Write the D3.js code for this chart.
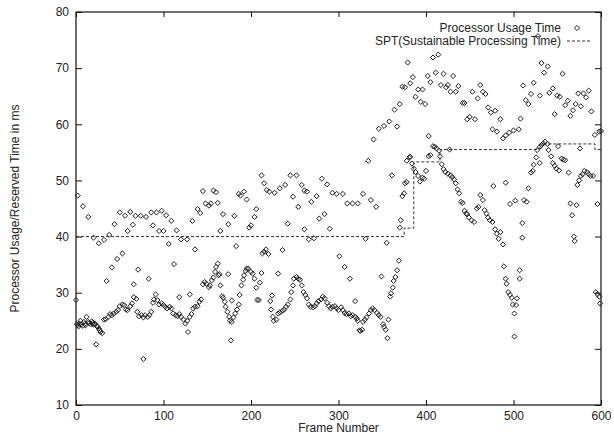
<!DOCTYPE html>
<html>
<head>
<meta charset="utf-8">
<title>Processor Usage Time</title>
<style>
  body { margin: 0; background: #fff; }
  svg text { font-family: "Liberation Sans", Arial, Helvetica, sans-serif; font-size: 12px; fill: #222; }
  .axis path { display: none; }
  .axis line { stroke: #111; stroke-width: 1px; }
  .pt { fill: none; stroke: #111; stroke-width: 0.9px; }
  .spt { fill: none; stroke: #333; stroke-width: 1px; stroke-dasharray: 3,2; }
</style>
<script src="https://cdn.jsdelivr.net/npm/d3@7"></script>
</head>
<body>
<script>
// [frame number, processor usage time in ms]
var usageLow = [
  [0,28.7],[1,24.4],[2,24.2],[3,24.0],[4,24.5],[5,25.0],[6,24.3],[8,24.1],[9,24.8],[10,24.4],[11,24.2],[12,25.7],
  [14,24.8],[15,24.6],[17,24.4],[18,24.9],[19,24.6],[20,24.3],[21,24.4],[22,24.5],[23,20.8],[24,24.0],[25,23.9],
  [26,23.6],[27,23.3],[28,23.0],[30,22.8],[32,25.2],[34,25.3],[37,25.7],[39,26.2],[41,26.0],[43,26.3],[46,26.6],
  [48,26.9],[50,27.6],[53,27.9],[55,27.8],[57,27.0],[59,26.9],[62,27.6],[64,28.1],[66,29.2],[69,28.9],[70,26.6],
  [72,25.8],[75,26.0],[77,25.6],[79,26.0],[82,25.7],[84,26.0],[86,26.6],[88,28.2],[89,28.8],[91,29.7],[93,28.7],
  [95,27.9],[98,28.1],[100,27.8],[102,27.5],[104,27.2],[107,27.5],[109,27.2],[111,26.3],[114,26.0],[116,25.8],
  [118,26.2],[120,25.7],[123,25.2],[125,24.5],[127,25.0],[128,23.0],[130,25.7],[132,26.2],[134,27.2],[136,27.5],
  [139,27.6],[141,28.4],[143,28.8],[145,31.5],[147,31.9],[149,31.6],[152,31.0],[153,31.3],[155,32.2],[157,32.7],
  [159,33.7],[160,34.6],[162,35.2],[163,33.1],[165,31.3],[167,29.4],[168,29.1],[170,28.4],[171,27.5],[173,26.6],
  [175,25.7],[176,25.0],[178,24.8],[180,25.6],[182,26.3],[184,27.0],[186,27.9],[187,29.6],[189,31.3],[191,32.3],
  [192,33.1],[194,33.9],[195,34.3],[197,34.3],[200,33.7],[202,33.4],[204,32.5],[206,30.9],[207,28.7],[209,28.7],
  [210,31.8],[212,33.5],[213,37.0],[215,37.3],[217,37.7],[220,36.9],[222,28.5],[223,27.0],[224,29.5],[225,25.7],
  [226,25.0],[229,25.2],[231,26.3],[233,26.5],[236,26.8],[238,27.0],[240,27.5],[242,27.9],[245,28.8],[246,30.1],
  [248,31.3],[249,32.5],[252,32.8],[254,32.5],[256,32.3],[258,31.3],[260,30.1],[262,29.6],[264,29.0],[266,27.9],
  [268,27.5],[271,27.4],[273,27.6],[275,28.1],[277,28.5],[280,28.8],[282,29.3],[284,29.0],[287,28.2],[289,27.6],
  [291,27.2],[293,27.5],[296,27.6],[298,27.2],[300,26.9],[303,27.4],[305,26.9],[307,26.4],[309,26.2],[312,26.3],
  [314,25.8],[316,26.0],[319,25.7],[321,25.4],[322,25.0],[324,23.3],[325,23.2],[327,23.4],[328,24.8],[330,25.2],
  [332,25.6],[335,26.3],[337,26.9],[339,27.2],[341,26.9],[344,26.4],[346,26.0],[348,25.7],[351,24.4],[352,23.9],
  [354,23.4],[356,21.9],[357,25.2]
];

var usageMid = [
  [35,32.1],[41,34.5],[47,36.0],[53,37.0],[66,31.5],[71,34.1],[77,18.2],[83,32.5],[106,38.7],[112,35.1],
  [118,29.2],[130,29.7],[136,37.7],[164,33.3],[174,33.3],[177,21.5],[178,28.6],[183,38.3],
  [231,33.4],[236,37.6],[242,42.3],[301,36.5],[307,34.6],[313,32.5],[319,28.5],[349,32.9],[355,38.9],
  [359,29.3],[360,29.9],[362,30.9],[363,32.1],[365,32.8],[367,34.0],[369,35.7],[370,41.6],[371,42.9],
  [373,47.2],[375,47.7],[376,49.5],[378,49.7],[361,50.9]
];

var usageHigh = [
  [2,47.3],[8,45.4],[14,43.5],[20,39.8],[26,38.8],[32,39.4],[38,40.3],[44,42.2],[50,44.3],[56,43.7],[59,41.0],
  [62,44.4],[65,42.1],[68,43.7],[74,43.7],[80,43.5],[86,44.3],[88,42.0],[92,44.3],[95,41.0],[98,44.6],[100,41.0],
  [103,43.8],[109,42.8],[115,41.1],[120,39.5],[127,39.5],[133,42.8],[139,44.9],[142,44.2],[145,48.1],[148,45.9],
  [152,45.5],[154,45.9],[157,48.2],[160,47.9],[162,46.0],[165,41.0],[168,44.0],[174,42.2],[181,43.7],[186,47.6],
  [188,47.3],[192,48.0],[195,46.6],[198,41.6],[200,42.0],[204,43.5],[206,44.9],[212,50.9],[215,49.5],[218,48.3],
  [221,48.0],[227,47.8],[233,48.6],[239,49.2],[245,50.9],[248,47.1],[252,50.9],[254,45.3],[258,49.2],[261,48.2],
  [261,41.3],[264,48.0],[266,39.5],[269,46.2],[272,39.7],[275,47.2],[278,43.2],[281,50.3],[284,44.0],[287,49.3],
  [290,41.4],[293,47.8],[298,47.6],[305,47.6],[310,45.9],[316,45.9],[322,45.9],[328,47.6],[331,39.6],[337,46.5],
  [343,45.3],[334,53.5],[340,57.3],[346,59.2],[352,59.7],[358,60.5],[364,62.6],[367,59.6],[370,63.6],[373,66.7],
  [376,66.6],[379,71.0],[382,67.3],[385,68.4],[388,64.9],[391,66.2],[394,64.0],[396,66.2],[399,63.6]
];

var usageLate = [
  [378,53.5],[381,54.1],[382,54.2],[384,53.0],[386,52.1],[388,51.5],[391,50.8],[393,49.8],[396,50.5],[398,50.3],
  [400,51.7],[403,54.3],[405,54.5],[408,56.1],[410,56.0],[412,55.7],[415,55.3],[416,54.3],[418,52.9],[420,52.0],
  [422,51.5],[425,51.2],[427,55.5],[428,50.9],[430,50.6],[432,50.2],[434,49.5],[436,48.4],[438,47.7],[440,46.2],
  [442,46.0],[444,44.6],[446,44.1],[447,44.0],[449,43.4],[452,42.9],[455,42.6],[458,45.0],[460,45.3],[462,47.4],
  [465,46.5],[467,44.7],[469,44.1],[471,43.4],[473,42.9],[476,42.6],[479,41.3],[481,40.5],[483,39.6],[485,40.8],
  [488,38.6],[477,49.0],[491,49.6],[489,34.7],[491,32.5],[492,31.6],[494,30.1],[496,29.6],[498,29.1],[499,27.9],
  [501,26.3],[501,22.2],[503,27.8],[504,29.0],[507,32.5],[507,34.0],[510,39.8],[510,42.4],[496,45.8],[502,46.4],
  [512,46.5],[515,46.2],[517,48.6],[520,51.4],[522,51.7],[523,52.8],[526,54.1],[527,55.4],[530,56.0],[532,56.3],
  [534,56.6],[536,56.9],[539,56.5],[540,55.4],[543,54.3],[545,53.1],[547,52.6],[549,52.1],[552,51.8],[530,53.1],
  [551,56.1],[555,53.9],[557,53.7],[559,53.6],[563,51.4],[576,55.7],[573,49.2],[575,50.0],[577,50.8],[579,51.1],
  [581,51.7],[584,51.5],[586,51.1],[588,50.8],[591,50.8],[565,45.9],[567,43.8],[569,40.0],[570,39.2],[572,45.6],
  [596,45.8],[594,30.1],[596,29.7],[598,29.3],[599,28.1],
  [402,68.6],[403,57.9],[405,67.5],[408,71.9],[411,69.2],[414,72.4],[417,67.0],[420,69.0],[423,66.6],[425,67.0],
  [428,65.8],[431,68.6],[434,65.8],[437,66.8],[442,63.8],[444,63.8],[447,60.9],[450,61.3],[453,65.8],[456,60.9],
  [459,64.6],[462,67.0],[465,65.8],[468,65.4],[471,63.0],[474,62.1],[476,59.1],[479,62.4],[481,58.7],[485,60.9],
  [488,57.5],[491,58.0],[495,58.5],[500,58.9],[506,59.1],[508,61.0],[511,66.9],[514,64.3],[517,63.6],[520,65.4],
  [523,67.4],[528,75.7],[530,65.1],[532,70.9],[535,69.2],[539,70.3],[541,65.6],[545,66.4],[547,61.8],[550,65.1],
  [553,64.9],[556,69.0],[559,63.4],[562,64.2],[565,61.5],[568,62.5],[571,63.6],[574,65.5],[577,63.2],[580,65.5],
  [583,64.8],[586,66.0],[589,62.3],[593,58.1],[598,58.7],[600,58.8]
];

// SPT step function: value holds from this frame to the next
var sptFrames = [0, 375, 386, 416, 530, 593, 600];
var sptValues = [40, 41.5, 53.3, 55.5, 56.5, 55.5, 55.5];

var xTicks = [0, 100, 200, 300, 400, 500, 600];
var yTicks = [10, 20, 30, 40, 50, 60, 70, 80];

var width = 614, height = 436;
var plotLeft = 76, plotRight = 601, plotTop = 12, plotBottom = 405;

var svg = d3.select("body").append("svg")
    .attr("width", width)
    .attr("height", height);

var x = d3.scaleLinear().domain([0, 600]).range([plotLeft, plotRight]);
var y = d3.scaleLinear().domain([10, 80]).range([plotBottom, plotTop]);

// axes, ticks pointing inward and mirrored
svg.append("g").attr("class", "axis")
    .attr("transform", "translate(0," + plotBottom + ")")
    .call(d3.axisBottom(x).tickValues(xTicks).tickSize(-5).tickPadding(6));
svg.append("g").attr("class", "axis")
    .attr("transform", "translate(0," + plotTop + ")")
    .call(d3.axisTop(x).tickValues(xTicks).tickSize(-5).tickFormat(""));
svg.append("g").attr("class", "axis")
    .attr("transform", "translate(" + plotLeft + ",0)")
    .call(d3.axisLeft(y).tickValues(yTicks).tickSize(-6).tickPadding(7));
svg.append("g").attr("class", "axis")
    .attr("transform", "translate(" + plotRight + ",0)")
    .call(d3.axisRight(y).tickValues(yTicks).tickSize(-6).tickFormat(""));

svg.selectAll(".axis text")
    .style("font-family", '"Liberation Sans", Arial, sans-serif')
    .style("font-size", "12px")
    .style("fill", "#222");

// points
var allPoints = usageLow.concat(usageMid, usageHigh, usageLate);
var diamond = d3.symbol().type(d3.symbolSquare).size(13);

svg.append("g").selectAll("path")
    .data(allPoints)
    .enter()
    .append("path")
      .attr("class", "pt")
      .attr("d", diamond)
      .attr("transform", function(d) {
        return "translate(" + x(d[0]) + "," + y(d[1]) + ") rotate(45)";
      });

// SPT dashed step line
var sptData = sptFrames.map(function(f, i) { return [f, sptValues[i]]; });
svg.append("path")
    .datum(sptData)
    .attr("class", "spt")
    .attr("d", d3.line()
      .x(function(d) { return x(d[0]); })
      .y(function(d) { return y(d[1]); })
      .curve(d3.curveStepAfter));

// border
svg.append("rect")
    .attr("x", plotLeft).attr("y", plotTop)
    .attr("width", plotRight - plotLeft).attr("height", plotBottom - plotTop)
    .attr("fill", "none").attr("stroke", "#111").attr("stroke-width", 1.2);

// legend
var legend = svg.append("g");
legend.append("text")
    .attr("x", 561).attr("y", 32)
    .attr("text-anchor", "end")
    .text("Processor Usage Time");
legend.append("path")
    .attr("class", "pt")
    .attr("d", diamond)
    .attr("transform", "translate(577,28) rotate(45)");
legend.append("text")
    .attr("x", 561).attr("y", 45)
    .attr("text-anchor", "end")
    .text("SPT(Sustainable Processing Time)");
legend.append("line")
    .attr("class", "spt")
    .attr("x1", 567).attr("x2", 591)
    .attr("y1", 41).attr("y2", 41);

// axis titles
svg.append("text")
    .attr("x", (plotLeft + plotRight) / 2).attr("y", 432)
    .attr("text-anchor", "middle")
    .text("Frame Number");
svg.append("text")
    .attr("transform", "translate(19," + ((plotTop + plotBottom) / 2) + ") rotate(-90)")
    .attr("text-anchor", "middle")
    .text("Processor Usage/Reserved Time in ms");
</script>
</body>
</html>
